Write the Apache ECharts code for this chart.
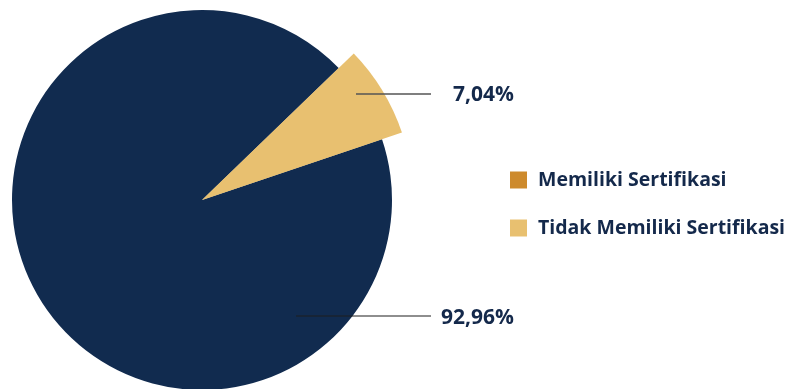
<!DOCTYPE html>
<html>
<head>
<meta charset="utf-8">
<script src="https://cdn.jsdelivr.net/npm/echarts@6/dist/echarts.min.js"></script>
<style>
  html, body { margin: 0; padding: 0; background: #ffffff; }
  #chart { width: 789px; height: 389px; }
</style>
</head>
<body>
<div id="chart"></div>
<script>
// Share of respondents by certification status (percent)
const categories = ['Tidak Memiliki Sertifikasi', 'Memiliki Sertifikasi'];
const values = [7.04, 92.96];
const legendOrder = ['Memiliki Sertifikasi', 'Tidak Memiliki Sertifikasi'];

const NAVY = '#112b4f';
const GOLD = '#e8c070';
const ORANGE = '#cd8a2c';
const TEXT = '#14294b';
const FONT = '"Open Sans", sans-serif';

const center = [202, 200];
const fmt = v => v.toFixed(2).replace('.', ',') + '%';

// where each label's leader line starts and where the text sits
const labelSpots = {
  'Tidak Memiliki Sertifikasi': { from: [356, 94], to: [431, 94], textX: 514, textY: 95, line: '#555555', lw: 1.5 },
  'Memiliki Sertifikasi':       { from: [296, 316], to: [431, 316], textX: 514, textY: 318, line: '#1e1e1e', lw: 1.2 }
};

const sliceColor = { 'Tidak Memiliki Sertifikasi': GOLD, 'Memiliki Sertifikasi': NAVY };
const legendColor = { 'Memiliki Sertifikasi': ORANGE, 'Tidak Memiliki Sertifikasi': GOLD };

const baseSeries = {
  type: 'pie',
  center: center,
  startAngle: 44,
  clockwise: true,
  silent: true,
  animation: false,
  avoidLabelOverlap: false,
  emphasis: { disabled: true }
};

const chart = echarts.init(document.getElementById('chart'), null, { renderer: 'canvas' });
chart.setOption({
  backgroundColor: '#ffffff',
  legend: {
    orient: 'vertical',
    left: 510,
    top: 170,
    padding: 0,
    itemWidth: 17,
    itemHeight: 17,
    itemGap: 28,
    icon: 'rect',
    selectedMode: false,
    textStyle: {
      fontFamily: FONT,
      fontWeight: 700,
      fontSize: 19.5,
      color: TEXT,
      padding: [0, 0, 0, 6]
    },
    data: legendOrder.map(n => ({ name: n, itemStyle: { color: legendColor[n] } }))
  },
  series: [
    // full disc
    Object.assign({}, baseSeries, {
      name: 'base',
      z: 1,
      radius: [0, 190],
      label: { show: false },
      labelLine: { show: false },
      data: categories.map((c, i) => ({
        name: c, value: values[i],
        itemStyle: { color: sliceColor[c] }
      }))
    }),
    // raised slice drawn with a larger radius
    Object.assign({}, baseSeries, {
      name: 'raised',
      z: 2,
      radius: [0, 211],
      label: { show: false },
      labelLine: { show: false },
      data: categories.map((c, i) => ({
        name: c, value: values[i],
        itemStyle: { color: c === 'Tidak Memiliki Sertifikasi' ? GOLD : 'rgba(0,0,0,0)' }
      }))
    }),
    // percentage labels with leader lines, on top of the slices
    Object.assign({}, baseSeries, {
      name: 'labels',
      z: 5,
      radius: [0, 1],
      label: {
        show: true,
        position: 'outside',
        fontFamily: FONT,
        fontWeight: 700,
        fontSize: 21,
        color: TEXT,
        formatter: p => fmt(p.value)
      },
      labelLine: { show: true, length: 10, length2: 10 },
      labelLayout: function (params) {
        const s = labelSpots[categories[params.dataIndex]];
        return {
          x: s.textX,
          y: s.textY,
          align: 'right',
          verticalAlign: 'middle',
          labelLinePoints: [s.from, s.to, s.to]
        };
      },
      data: categories.map((c, i) => ({
        name: c, value: values[i],
        itemStyle: { color: 'rgba(0,0,0,0)' },
        labelLine: { lineStyle: { color: labelSpots[c].line, width: labelSpots[c].lw } }
      }))
    })
  ]
});
</script>
</body>
</html>
